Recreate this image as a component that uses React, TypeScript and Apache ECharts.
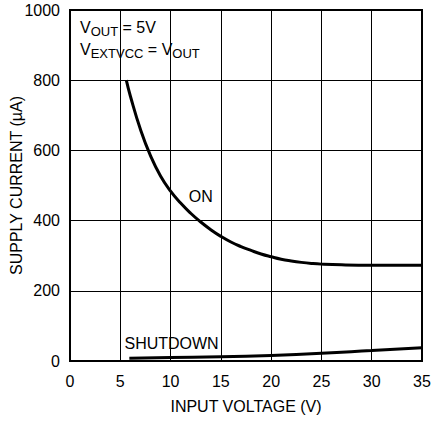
import React, { useEffect, useRef } from "react";
import * as echarts from "echarts";

const onVoltage = [5.6, 6, 7, 8, 9, 10, 11, 12, 13, 14, 15, 16, 17, 18, 19, 20, 21, 22, 23, 24, 25, 27, 30, 35];
const onCurrent = [800, 755, 660, 585, 527, 484, 450, 421, 396, 374, 355, 339, 326, 315, 305, 297, 290, 285, 281, 278, 276, 274, 273, 273];
const sdVoltage = [5.9, 10, 15, 20, 25, 30, 35];
const sdCurrent = [8, 10, 12, 16, 22, 30, 38];

const FONT = '"Liberation Sans Narrow", "Liberation Sans", Arial, sans-serif';

export default function App() {
  const ref = useRef<HTMLDivElement>(null);
  useEffect(() => {
    if (!ref.current) return;
    const chart = echarts.init(ref.current, undefined, { renderer: "svg" });
    const axisText = { color: "#000", fontFamily: FONT, fontSize: 16 };
    chart.setOption({
      animation: false,
      backgroundColor: "#fff",
      grid: {
        left: 70, right: 9, top: 10, bottom: 62,
        outerBoundsMode: "none", containLabel: false,
        show: true, borderColor: "#000", borderWidth: 2, backgroundColor: "transparent",
      },
      xAxis: {
        type: "value", min: 0, max: 35, interval: 5,
        name: "INPUT VOLTAGE (V)", nameLocation: "middle", nameGap: 37, nameMoveOverlap: false,
        nameTextStyle: axisText,
        axisLine: { show: false }, axisTick: { show: false },
        axisLabel: { ...axisText, margin: 12 },
        splitLine: { show: true, lineStyle: { color: "#000", width: 1 } },
      },
      yAxis: {
        type: "value", min: 0, max: 1000, interval: 200,
        name: "SUPPLY CURRENT (µA)", nameLocation: "middle", nameGap: 46, nameMoveOverlap: false,
        nameTextStyle: axisText,
        axisLine: { show: false }, axisTick: { show: false },
        axisLabel: { ...axisText, margin: 10, formatter: (v: number) => String(v) },
        splitLine: { show: true, lineStyle: { color: "#000", width: 1 } },
      },
      series: [
        {
          type: "line", smooth: true, symbol: "none",
          lineStyle: { color: "#000", width: 3 },
          data: onVoltage.map((v, i) => [v, onCurrent[i]]),
          markPoint: {
            symbolSize: 0,
            label: { show: true, formatter: "ON", ...axisText, position: "inside" },
            data: [{ coord: [13, 470] }],
          },
        },
        {
          type: "line", smooth: true, symbol: "none",
          lineStyle: { color: "#000", width: 3 },
          data: sdVoltage.map((v, i) => [v, sdCurrent[i]]),
          markPoint: {
            symbolSize: 0,
            label: { show: true, formatter: "SHUTDOWN", ...axisText, position: "inside" },
            data: [{ coord: [10.1, 49] }],
          },
        },
      ],
      graphic: [
        {
          type: "text", left: 80, top: 17,
          style: {
            text: "{n|V}{s|OUT}{n| = 5V}\n{n|V}{s|EXTVCC}{n| = V}{s|OUT}",
            fontFamily: FONT,
            rich: {
              n: { fontFamily: FONT, fontSize: 16, color: "#000", lineHeight: 22 },
              s: { fontFamily: FONT, fontSize: 13, color: "#000", lineHeight: 22, padding: [8, 0, 0, 0] },
            },
          },
        },
      ],
    });
    return () => chart.dispose();
  }, []);
  return <div ref={ref} style={{ position: "fixed", left: 0, top: 0, width: 431, height: 423 }} />;
}
